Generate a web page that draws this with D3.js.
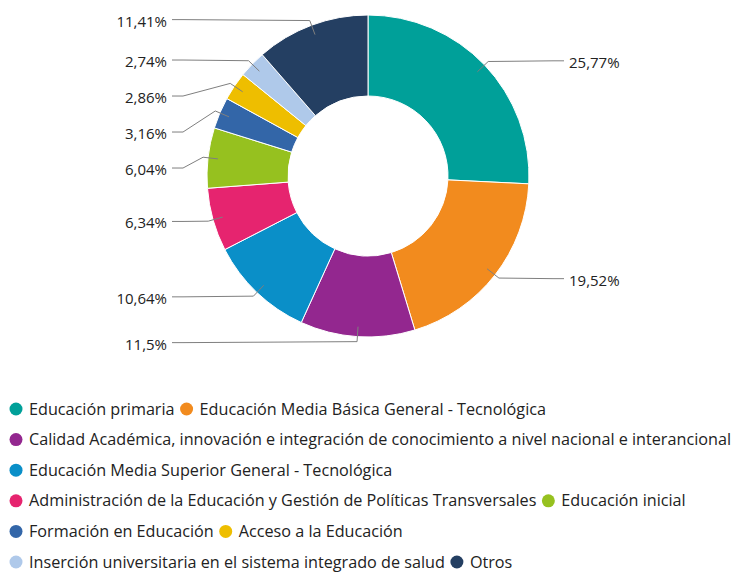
<!DOCTYPE html>
<html>
<head>
<meta charset="utf-8">
<script src="https://cdn.jsdelivr.net/npm/d3@7"></script>
<style>
  html, body { margin: 0; padding: 0; background: #fff; }
  svg { display: block; }
</style>
</head>
<body>
<svg id="chart" width="736" height="573"></svg>
<script>
const categories = [
  "Educación primaria",
  "Educación Media Básica General - Tecnológica",
  "Calidad Académica, innovación e integración de conocimiento a nivel nacional e interancional",
  "Educación Media Superior General - Tecnológica",
  "Administración de la Educación y Gestión de Políticas Transversales",
  "Educación inicial",
  "Formación en Educación",
  "Acceso a la Educación",
  "Inserción universitaria en el sistema integrado de salud",
  "Otros"
];
const values = [25.77, 19.52, 11.5, 10.64, 6.34, 6.04, 3.16, 2.86, 2.74, 11.41];
const valueLabels = ["25,77%", "19,52%", "11,5%", "10,64%", "6,34%", "6,04%", "3,16%", "2,86%", "2,74%", "11,41%"];
const colors = ["#00A099", "#F28B1E", "#93278F", "#0A8FC8", "#E6246F", "#96C11F", "#3366A8", "#EEBE00", "#AFC9EA", "#243F62"];

const W = 736, H = 573;
const cx = 368, cy = 176;
const outerR = 161, innerR = 80;
const touchR = 151, breakR = 166, labelR = 167;
const connX = 196, textGap = 5, minSpacing = 36, elbow = 11;
const FONT = "'Open Sans', 'DejaVu Sans', sans-serif";

const svg = d3.select("#chart");
const color = d3.scaleOrdinal().domain(categories).range(colors);

const data = categories.map((c, i) => ({ name: c, value: values[i], label: valueLabels[i] }));
const pie = d3.pie().sort(null).value(d => d.value);
const arcs = pie(data);
const arc = d3.arc().innerRadius(innerR).outerRadius(outerR);

const g = svg.append("g").attr("transform", `translate(${cx},${cy})`);
g.selectAll("path.slice").data(arcs).enter().append("path")
  .attr("class", "slice")
  .attr("d", arc)
  .attr("fill", d => color(d.data.name))
  .attr("stroke", "#ffffff")
  .attr("stroke-width", 1)
  .attr("stroke-linejoin", "round");

// label positions
const items = arcs.map(a => {
  const ang = (a.startAngle + a.endAngle) / 2;
  const s = Math.sin(ang), c = Math.cos(ang);
  const right = s >= 0;
  return {
    a, right,
    touch: [touchR * s, -touchR * c],
    brk: [breakR * s, -breakR * c],
    y: -labelR * c
  };
});
[true, false].forEach(side => {
  const list = items.filter(d => d.right === side).sort((p, q) => p.y - q.y);
  for (let i = 1; i < list.length; i++) {
    if (list[i].y < list[i - 1].y + minSpacing) list[i].y = list[i - 1].y + minSpacing;
  }
});

items.forEach(d => {
  const lx = d.right ? connX : -connX;
  const ly = d.y;
  const ex = d.right ? lx - elbow : lx + elbow;
  const path = d3.path();
  path.moveTo(lx, ly);
  path.lineTo(ex, ly);
  path.lineTo(d.brk[0], d.brk[1]);
  path.lineTo(d.touch[0], d.touch[1]);
  g.append("path")
    .attr("d", path.toString())
    .attr("fill", "none")
    .attr("stroke", "#7f7f7f")
    .attr("stroke-width", 1)
    .attr("stroke-linejoin", "round");
  g.append("text")
    .attr("x", d.right ? lx + textGap : lx - textGap)
    .attr("y", ly + 7)
    .attr("text-anchor", d.right ? "start" : "end")
    .attr("font-family", FONT)
    .attr("font-size", "15px")
    .attr("fill", "#222")
    .text(d.a.data.label);
});

// legend (flow layout)
const legend = svg.append("g");
const legX0 = 16, legY0 = 409, rowH = 30.6, markR = 6.5, textOff = 13, itemGap = 12, maxRight = 736;
let x = legX0, y = legY0;
categories.forEach((name, i) => {
  const it = legend.append("g");
  const t = it.append("text")
    .attr("x", textOff)
    .attr("y", 5.5)
    .attr("font-family", FONT)
    .attr("font-size", "16.2px")
    .attr("fill", "#222")
    .text(name);
  const w = t.node().getComputedTextLength();
  if (x !== legX0 && x + textOff + w > maxRight) { x = legX0; y += rowH; }
  it.attr("transform", `translate(${x},${y})`);
  it.insert("circle", "text").attr("r", markR).attr("fill", color(name));
  x += textOff + w + itemGap;
});
</script>
</body>
</html>
